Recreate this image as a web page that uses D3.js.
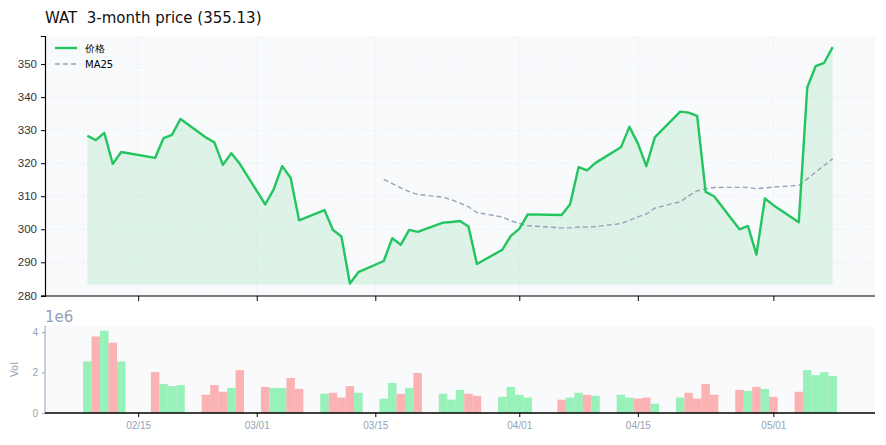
<!DOCTYPE html>
<html><head><meta charset="utf-8">
<script src="https://cdn.jsdelivr.net/npm/d3@7/dist/d3.min.js"></script>
<style>body{margin:0;background:#fff;font-family:"DejaVu Sans",sans-serif}</style>
</head><body><svg id="c" width="886" height="445"></svg>
<script>
const dates=["2026-02-09","2026-02-10","2026-02-11","2026-02-12","2026-02-13","2026-02-17","2026-02-18","2026-02-19","2026-02-20","2026-02-23","2026-02-24","2026-02-25","2026-02-26","2026-02-27","2026-03-02","2026-03-03","2026-03-04","2026-03-05","2026-03-06","2026-03-09","2026-03-10","2026-03-11","2026-03-12","2026-03-13","2026-03-16","2026-03-17","2026-03-18","2026-03-19","2026-03-20","2026-03-23","2026-03-24","2026-03-25","2026-03-26","2026-03-27","2026-03-30","2026-03-31","2026-04-01","2026-04-02","2026-04-06","2026-04-07","2026-04-08","2026-04-09","2026-04-10","2026-04-13","2026-04-14","2026-04-15","2026-04-16","2026-04-17","2026-04-20","2026-04-21","2026-04-22","2026-04-23","2026-04-24","2026-04-27","2026-04-28","2026-04-29","2026-04-30","2026-05-01","2026-05-04","2026-05-05","2026-05-06","2026-05-07","2026-05-08"];
const prices=[328.3,327.0,329.2,319.8,323.4,321.6,327.6,328.6,333.4,327.8,326.3,319.5,323.0,319.8,307.5,312.1,319.1,315.6,302.7,305.8,299.8,297.8,283.6,287.0,290.4,297.3,295.3,299.8,299.2,302.0,302.2,302.5,300.8,289.5,293.8,298.0,300.1,304.5,304.3,307.6,318.8,317.8,320.1,324.8,331.0,326.0,319.1,327.8,335.6,335.3,334.3,311.3,310.0,300.0,301.0,292.3,309.3,307.3,302.1,342.9,349.4,350.4,355.13];
const volumes=[2.55,3.78,4.07,3.48,2.55,2.02,1.43,1.33,1.38,0.9,1.38,1.05,1.24,2.12,1.29,1.24,1.24,1.73,1.19,0.95,1.0,0.76,1.33,1.0,0.71,1.48,0.95,1.24,1.98,0.95,0.66,1.14,0.95,0.85,0.8,1.29,0.9,0.76,0.66,0.76,1.0,0.9,0.85,0.9,0.76,0.71,0.76,0.46,0.76,1.0,0.71,1.43,0.9,1.14,1.09,1.29,1.19,0.8,1.05,2.12,1.87,2.02,1.83];
const xTicks=["2026-02-15","2026-03-01","2026-03-15","2026-04-01","2026-04-15","2026-05-01"];
const yTicks=[280,290,300,310,320,330,340,350];
const volTicks=[0,2,4];

const parse=d3.utcParse("%Y-%m-%d");
const D=dates.map(parse), T=xTicks.map(parse);
const ma=prices.map((p,i)=>i<24?null:d3.mean(prices.slice(i-24,i+1)));
const svg=d3.select("#c");
const L=45,R=875,T1=36,B1=296,T2=326,B2=413;
const x=d3.scaleUtc().domain([d3.utcDay.offset(D[0],-5),d3.utcDay.offset(D[D.length-1],5)]).range([L,R]);
const y=d3.scaleLinear().domain([279.8,358.5]).range([B1,T1]);
const yv=d3.scaleLinear().domain([0,4.3]).range([B2,T2]);
const grey="#94a3b8";
svg.append("rect").attr("x",L).attr("y",T1).attr("width",R-L).attr("height",B1-T1).attr("fill","#f8fafc");
svg.append("rect").attr("x",L).attr("y",T2).attr("width",R-L).attr("height",B2-T2).attr("fill","#f8fafc");
const g=svg.append("g").attr("stroke","#e2e8f0").attr("stroke-dasharray","1.5,2").attr("stroke-width",0.7);
yTicks.forEach(v=>g.append("line").attr("x1",L).attr("x2",R).attr("y1",y(v)).attr("y2",y(v)));
T.forEach(t=>g.append("line").attr("x1",x(t)).attr("x2",x(t)).attr("y1",T1).attr("y2",B1));
const base=d3.min(prices)-0.3;
svg.append("path").datum(prices).attr("fill","#22c55e").attr("fill-opacity",0.12)
 .attr("d",d3.area().x((d,i)=>x(D[i])).y0(y(base)).y1(d=>y(d)));
svg.append("path").datum(ma).attr("fill","none").attr("stroke",grey).attr("stroke-width",1.4).attr("stroke-dasharray","5,3")
 .attr("d",d3.line().defined(d=>d!=null).x((d,i)=>x(D[i])).y(d=>y(d)));
svg.append("path").datum(prices).attr("fill","none").attr("stroke","#22c55e").attr("stroke-width",2.4).attr("stroke-linejoin","round")
 .attr("d",d3.line().x((d,i)=>x(D[i])).y(d=>y(d)));
const ya=svg.append("g").attr("transform",`translate(${L},0)`).call(d3.axisLeft(y).tickValues(yTicks).tickSize(4).tickPadding(4));
ya.selectAll("text").attr("font-size",11.5).attr("fill","#333");
const xa=svg.append("g").attr("transform",`translate(0,${B1})`).call(d3.axisBottom(x).tickValues(T).tickSize(5).tickFormat(""));
[ya,xa].forEach(a=>{a.select(".domain").attr("stroke","#000").attr("stroke-width",1.2);a.selectAll("line").attr("stroke","#000");});
xa.select(".domain").attr("d",`M${L},0H${R}`);
const bw=x(parse("2026-02-10"))-x(parse("2026-02-09"));
svg.append("g").selectAll("rect").data(volumes).join("rect")
 .attr("x",(d,i)=>x(D[i])-bw/2).attr("width",bw).attr("y",d=>yv(d)).attr("height",d=>B2-yv(d))
 .attr("fill",(d,i)=>(i===0||prices[i]>=prices[i-1])?"#86efac":"#fca5a5").attr("opacity",0.85);
const va=svg.append("g").attr("transform",`translate(${L},0)`).call(d3.axisLeft(yv).tickValues(volTicks).tickSize(3).tickPadding(4).tickFormat(d3.format("d")));
va.selectAll("text").attr("font-size",10).attr("fill",grey);
va.selectAll("line").attr("stroke",grey);
va.select(".domain").attr("stroke",grey).attr("d",`M0,${T2}V${B2}`);
const xb=svg.append("g").attr("transform",`translate(0,${B2})`).call(d3.axisBottom(x).tickValues(T).tickSize(4).tickPadding(5).tickFormat(d3.utcFormat("%m/%d")));
xb.selectAll("text").attr("font-size",10).attr("fill",grey);
xb.selectAll("line").attr("stroke","#000");
xb.select(".domain").attr("stroke","#000").attr("stroke-width",1.5).attr("d",`M${L},0H${R}`);
svg.append("text").attr("x",L).attr("y",T2-4).text("1e6").attr("font-size",15).attr("fill",grey);
svg.append("text").attr("transform",`translate(18,${(T2+B2)/2}) rotate(-90)`).attr("text-anchor","middle").text("Vol").attr("font-size",10).attr("fill",grey);
svg.append("text").attr("x",L).attr("y",23).attr("xml:space","preserve").style("white-space","pre").text("WAT  3-month price (355.13)").attr("font-size",15).attr("fill","#111");
const lg=svg.append("g").attr("font-size",10);
lg.append("line").attr("x1",55).attr("x2",77).attr("y1",48).attr("y2",48).attr("stroke","#22c55e").attr("stroke-width",2.4);
lg.append("text").attr("x",85).attr("y",52).text("价格");
lg.append("line").attr("x1",55).attr("x2",77).attr("y1",64).attr("y2",64).attr("stroke",grey).attr("stroke-width",1.4).attr("stroke-dasharray","5,3");
lg.append("text").attr("x",85).attr("y",68).text("MA25");
</script></body></html>
